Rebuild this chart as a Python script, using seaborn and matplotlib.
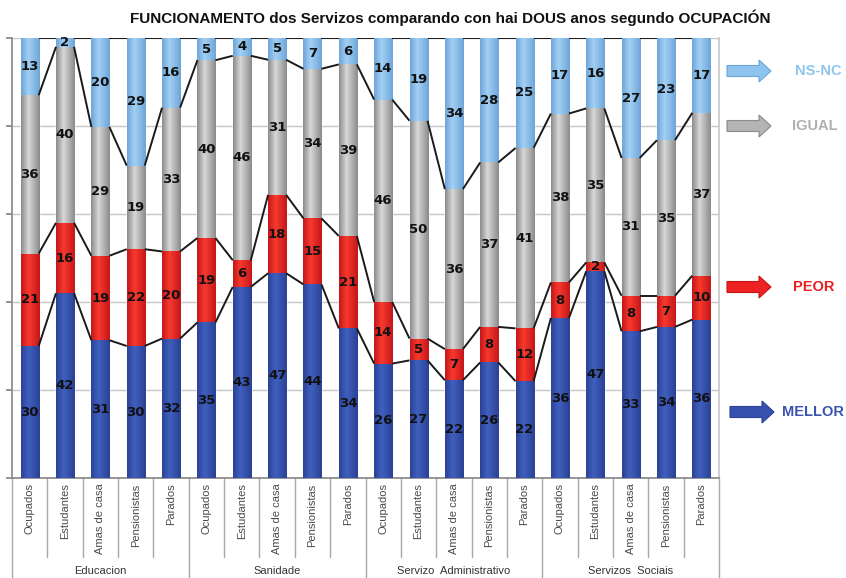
import numpy as np
import pandas as pd
import matplotlib
matplotlib.use("Agg")
import matplotlib.pyplot as plt
import seaborn as sns
from matplotlib.colors import LinearSegmentedColormap
from matplotlib.patches import FancyArrow
from matplotlib.transforms import blended_transform_factory

# ---- data -------------------------------------------------------------
groups = ["Educacion", "Sanidade", "Servizo  Administrativo", "Servizos  Sociais"]
occupations = ["Ocupados", "Estudantes", "Amas de casa", "Pensionistas", "Parados"]

mellor = [30, 42, 31, 30, 32, 35, 43, 47, 44, 34, 26, 27, 22, 26, 22, 36, 47, 33, 34, 36]
peor   = [21, 16, 19, 22, 20, 19, 6, 18, 15, 21, 14, 5, 7, 8, 12, 8, 2, 8, 7, 10]
igual  = [36, 40, 29, 19, 33, 40, 46, 31, 34, 39, 46, 50, 36, 37, 41, 38, 35, 31, 35, 37]
nsnc   = [13, 2, 20, 29, 16, 5, 4, 5, 7, 6, 14, 19, 34, 28, 25, 17, 16, 27, 23, 17]

series_names = ["MELLOR", "PEOR", "IGUAL", "NS-NC"]
series_vals = [mellor, peor, igual, nsnc]

# ---- styling ------------------------------------------------------------
sns.set_theme(style="white")
plt.rcParams["font.family"] = ["Liberation Sans", "DejaVu Sans"]

base_colors = {"MELLOR": "#3652AE", "PEOR": "#EE2222", "IGUAL": "#B4B4B4", "NS-NC": "#8EC4EE"}
edge_colors = {"MELLOR": "#2A4195", "PEOR": "#C4161A", "IGUAL": "#8A8A8A", "NS-NC": "#6DA5D8"}
center_colors = {"MELLOR": "#4060BE", "PEOR": "#F83A2E", "IGUAL": "#D8D8D8", "NS-NC": "#A2D0F4"}
text_colors = {"MELLOR": "#3A55B0", "PEOR": "#E82020", "IGUAL": "#B0B0B0", "NS-NC": "#8EC5EF"}

# ---- table: 100% stacked shares --------------------------------------
n = len(mellor)
vals = np.array(series_vals, dtype=float)
totals = vals.sum(axis=0)
shares = vals / totals * 100
cum = np.cumsum(shares, axis=0)  # top of each segment
df = pd.DataFrame({"bar": np.arange(n)})
for k, name in enumerate(series_names):
    df["top_" + name] = cum[k]

W, H, DPI = 846, 578, 100
fig = plt.figure(figsize=(W / DPI, H / DPI), dpi=DPI)
ax = fig.add_axes([12 / W, 100 / H, 707 / W, 440 / H])

# draw from the tallest cumulative level down so each segment shows
for name in reversed(series_names):
    sns.barplot(data=df, x="bar", y="top_" + name, order=list(range(n)),
                color=base_colors[name], saturation=1, width=0.51,
                errorbar=None, ax=ax, zorder=2)

bars = ax.patches[:n]
xs0 = np.array([p.get_x() for p in bars])
ws = np.array([p.get_width() for p in bars])

# cylinder-like horizontal shading for every segment
grad = np.linspace(0, 1, 128).reshape(1, -1)
for k, name in enumerate(series_names):
    cmap = LinearSegmentedColormap.from_list(
        name, [(0, edge_colors[name]), (0.4, center_colors[name]), (1, edge_colors[name])])
    bottoms = cum[k - 1] if k > 0 else np.zeros(n)
    for i in range(n):
        ax.imshow(grad, cmap=cmap, aspect="auto", interpolation="bilinear",
                  extent=(xs0[i], xs0[i] + ws[i], bottoms[i], cum[k][i]), zorder=3)
        ax.text(xs0[i] + ws[i] / 2, (bottoms[i] + cum[k][i]) / 2, str(series_vals[k][i]),
                ha="center", va="center", fontsize=9.5, fontweight="bold",
                family="DejaVu Sans", color="#111111", zorder=5)

# series lines joining segment tops from bar to bar
for k in range(len(series_names)):
    for i in range(n - 1):
        ax.plot([xs0[i] + ws[i], xs0[i + 1]], [cum[k][i], cum[k][i + 1]],
                color="#1a1a1a", lw=1.4, zorder=4, solid_capstyle="butt")

ax.set_xlim(-0.5, n - 0.5)
ax.set_ylim(0, 100)
ax.set_xlabel("")
ax.set_ylabel("")
ax.set_xticks([])
ax.set_yticks([0, 20, 40, 60, 80, 100])
ax.yaxis.grid(True, color="#C6C6C6", lw=1)
ax.set_axisbelow(True)
ax.tick_params(axis="y", left=True, length=4, color="#888888", labelleft=False)
for side in ["left", "bottom"]:
    ax.spines[side].set_color("#8A8A8A")
ax.spines["right"].set_color("#C8C8C8")
ax.spines["top"].set_visible(False)

# category labels and separators below the axis
tr = blended_transform_factory(ax.transData, ax.transAxes)
labels = [occ for _ in groups for occ in occupations]
for i, lab in enumerate(labels):
    ax.text(i, -0.012, lab, rotation=90, ha="center", va="top", fontsize=8,
            color="#4a4a4a", transform=tr)
for k in range(n + 1):
    long = (k % len(occupations) == 0)
    ax.plot([k - 0.5, k - 0.5], [0, -0.23 if long else -0.18], transform=tr,
            color="#A8A8A8", lw=1, clip_on=False)
for g, gname in enumerate(groups):
    ax.text(g * 5 + 2, -0.211, gname, ha="center", va="center", fontsize=8,
            color="#333333", transform=tr)

fig.text(450 / W, 1 - 18 / H,
         "FUNCIONAMENTO dos Servizos comparando con hai DOUS anos segundo OCUPACIÓN",
         ha="center", va="center", fontsize=11, fontweight="bold", color="#111111")

# arrow legend at the right
legend_items = [("NS-NC", 727, 71, 795), ("IGUAL", 727, 126, 792),
                ("PEOR", 727, 287, 793), ("MELLOR", 730, 412, 782)]
for name, x0, y0, xt in legend_items:
    arr = FancyArrow(x0 / DPI, (H - y0) / DPI, 44 / DPI, 0, width=11 / DPI,
                     head_width=22 / DPI, head_length=12 / DPI,
                     length_includes_head=True, transform=fig.dpi_scale_trans,
                     facecolor=base_colors[name], edgecolor=edge_colors[name], lw=0.8)
    fig.patches.append(arr)
    fig.text(xt / W, 1 - y0 / H, name, ha="left", va="center", fontsize=10.5,
             fontweight="bold", color=text_colors[name])

fig.savefig("out.png", dpi=DPI)
